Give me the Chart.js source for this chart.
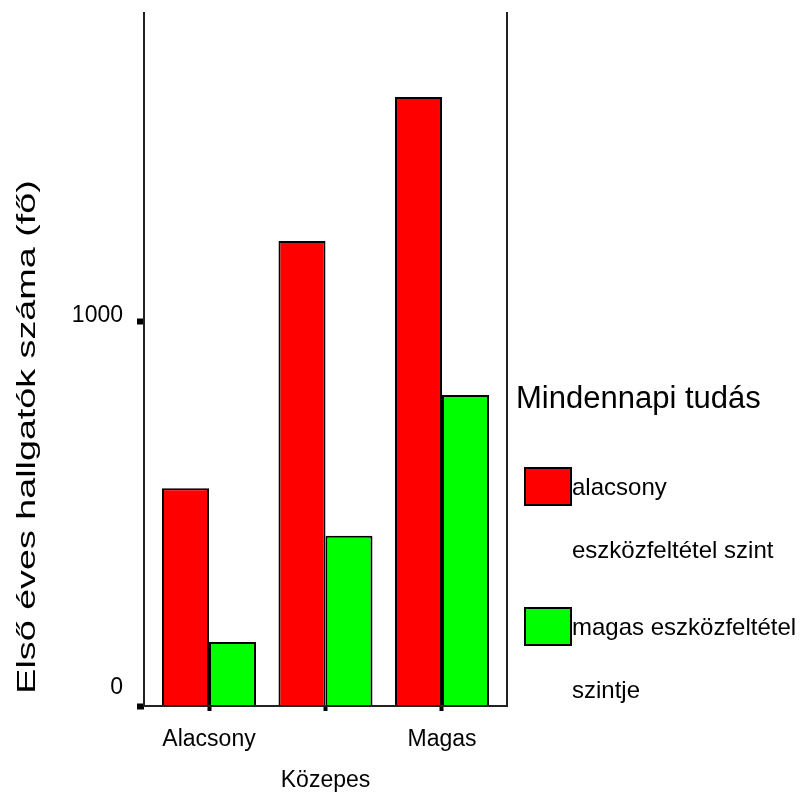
<!DOCTYPE html>
<html lang="hu">
<head>
  <meta charset="UTF-8">
  <title>Első éves hallgatók</title>
  <script src="https://cdn.jsdelivr.net/npm/chart.js"></script>
  <style>
    body { margin: 0; background: #fff; }
    #chart { display: block; }
  </style>
</head>
<body>
  <canvas id="chart" width="805" height="794"></canvas>
  <script>
    // adatok
    const categories = ['Alacsony', 'Közepes', 'Magas'];
    const seriesNames = ['alacsony\neszközfeltétel szint', 'magas eszközfeltétel\nszintje'];
    const lowValues = [566, 1208, 1582];
    const highValues = [166, 442, 808];
    const yTicks = [0, 1000];
    const legendTitle = 'Mindennapi tudás';
    const yTitle = 'Első éves hallgatók száma (fő)';

    const font = "'Liberation Sans', Arial, sans-serif";
    const toPoints = arr => arr.map((v, i) => ({ x: i, y: v }));

    // keret + tengelycím + jelmagyarázat
    const extras = {
      id: 'extras',
      afterDraw(chart) {
        const ctx = chart.ctx;
        const a = chart.chartArea;
        ctx.save();
        ctx.strokeStyle = '#222';
        ctx.lineWidth = 2;
        ctx.beginPath();
        ctx.moveTo(a.left, a.top);
        ctx.lineTo(a.left, a.bottom);
        ctx.lineTo(a.right, a.bottom);
        ctx.lineTo(a.right, a.top);
        ctx.stroke();

        // y tengely címe
        ctx.translate(28, 437);
        ctx.rotate(-Math.PI / 2);
        ctx.scale(1.45, 1);
        ctx.font = '26px ' + font;
        ctx.fillStyle = '#000';
        ctx.textAlign = 'center';
        ctx.textBaseline = 'middle';
        ctx.fillText(yTitle, 0, 0);
        ctx.restore();

        // jelmagyarázat
        ctx.save();
        ctx.fillStyle = '#000';
        ctx.textBaseline = 'middle';
        ctx.font = '31px ' + font;
        ctx.fillText(legendTitle, 516, 399);
        ctx.font = '24px ' + font;
        chart.data.datasets.forEach((ds, i) => {
          const y0 = 468 + i * 140;
          ctx.fillStyle = ds.backgroundColor;
          ctx.fillRect(525, y0, 46, 37);
          ctx.strokeStyle = '#000';
          ctx.lineWidth = 2;
          ctx.strokeRect(525, y0, 46, 37);
          ctx.fillStyle = '#000';
          ds.label.split('\n').forEach((line, j) => {
            ctx.fillText(line, 572, y0 + 20 + j * 63);
          });
        });
        ctx.restore();
      }
    };

    new Chart(document.getElementById('chart'), {
      type: 'bar',
      data: {
        datasets: [
          { label: seriesNames[0], data: toPoints(lowValues), backgroundColor: '#ff0000', borderColor: '#000', borderWidth: 2, borderSkipped: 'bottom' },
          { label: seriesNames[1], data: toPoints(highValues), backgroundColor: '#00ff00', borderColor: '#000', borderWidth: 2, borderSkipped: 'bottom' }
        ]
      },
      options: {
        responsive: false,
        animation: false,
        layout: { padding: { top: 12, right: 298, left: 0, bottom: 0 } },
        datasets: { bar: { categoryPercentage: 0.807, barPercentage: 1 } },
        plugins: { legend: { display: false }, tooltip: { enabled: false } },
        scales: {
          x: {
            type: 'linear',
            min: -0.558,
            max: 2.558,
            offset: false,
            afterBuildTicks(s) { s.ticks = categories.map((c, i) => ({ value: i })); },
            grid: { offset: false, drawOnChartArea: false, tickLength: 5, tickWidth: 4, tickColor: '#000' },
            border: { display: false },
            afterFit(s) { s.height = 88; s.paddingLeft = 0; s.paddingRight = 0; },
            ticks: {
              color: '#000',
              padding: 8,
              maxRotation: 0,
              autoSkip: false,
              font: { family: font, size: 23, lineHeight: 1.8 },
              callback: (v, i) => i === 1 ? ['', categories[i]] : categories[i]
            }
          },
          y: {
            min: 0,
            max: 1803,
            afterBuildTicks(s) { s.ticks = yTicks.map(v => ({ value: v })); },
            afterFit(s) { s.width = 144; s.paddingTop = 0; s.paddingBottom = 0; },
            grid: { drawOnChartArea: false, tickLength: 7, tickWidth: 6, tickColor: '#000' },
            border: { display: false },
            ticks: {
              color: '#000',
              padding: 14,
              labelOffset: -5,
              font: { family: font, size: 23, lineHeight: 1.2 },
              callback: v => v === 0 ? ['0', ''] : String(v)
            }
          }
        }
      },
      plugins: [extras]
    });
  </script>
</body>
</html>
